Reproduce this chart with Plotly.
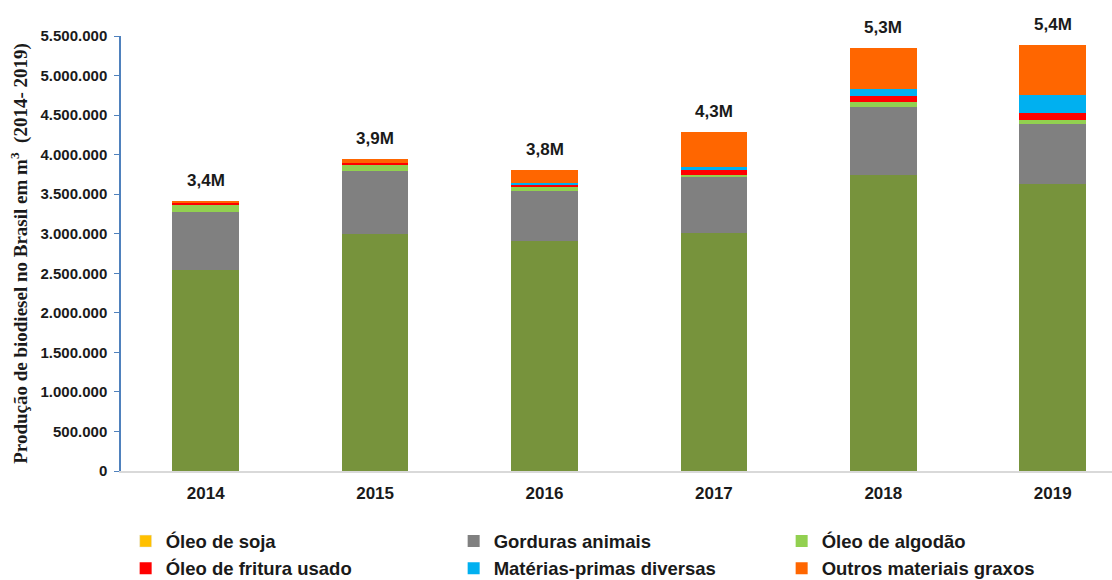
import plotly.graph_objects as go

# Biodiesel production in Brazil by feedstock, m³
years = ["2014", "2015", "2016", "2017", "2018", "2019"]

oleo_soja = [2545000, 3000000, 2904000, 3009000, 3742000, 3628000]
gorduras_animais = [733000, 796000, 640000, 720000, 860000, 755000]
oleo_algodao = [81000, 76000, 50000, 13000, 59000, 54000]
oleo_fritura = [33000, 25000, 25000, 59000, 84000, 85000]
materias_primas = [0, 0, 22000, 46000, 84000, 231000]
outros_graxos = [25000, 46000, 160000, 443000, 519000, 633000]

series_names = [
    "Óleo de soja",
    "Gorduras animais",
    "Óleo de algodão",
    "Óleo de fritura usado",
    "Matérias-primas diversas",
    "Outros materiais graxos",
]
series_values = [oleo_soja, gorduras_animais, oleo_algodao,
                 oleo_fritura, materias_primas, outros_graxos]
bar_colors = ["#77933C", "#808080", "#92D050", "#FF0000", "#00B0F0", "#FF6600"]
legend_colors = ["#FFC000", "#808080", "#92D050", "#FF0000", "#00B0F0", "#FF6600"]

y_tick_vals = list(range(0, 5500001, 500000))


def fmt_thousands(v):
    return f"{v:,}".replace(",", ".")


fig = go.Figure()

for i, (name, vals) in enumerate(zip(series_names, series_values)):
    same_color = bar_colors[i] == legend_colors[i]
    fig.add_trace(go.Bar(
        x=years, y=vals, name=name,
        marker=dict(color=bar_colors[i], line=dict(width=0)),
        width=0.394,
        showlegend=same_color,
        legendrank=i + 1,
        hoverinfo="x+y+name",
    ))
    if not same_color:
        # legend swatch for the soybean series uses its own key colour
        fig.add_trace(go.Bar(
            x=[None], y=[None], name=name,
            marker=dict(color=legend_colors[i]),
            showlegend=True, legendrank=i + 1,
        ))

# total production label above each stacked column
totals = [sum(v[k] for v in series_values) for k in range(len(years))]
for k, tot in enumerate(totals):
    fig.add_annotation(
        x=k, y=tot, xref="x", yref="y",
        text=f"{tot / 1e6:.1f}M".replace(".", ","),
        showarrow=False, yanchor="bottom", yshift=9,
        font=dict(family="Liberation Sans, Arial", size=17, color="#1a1a1a", weight="bold"),
    )

fig.update_layout(
    width=1112, height=580,
    margin=dict(l=121, r=0, t=36, b=109),
    paper_bgcolor="white", plot_bgcolor="white",
    barmode="stack",
    bargap=0.6,
    showlegend=True,
    legend=dict(
        orientation="h",
        xref="container", yref="container",
        x=0.113, xanchor="left",
        y=0.099, yanchor="top",
        entrywidth=283, entrywidthmode="pixels",
        traceorder="normal",
        itemclick=False,
        font=dict(family="Liberation Sans, Arial", size=18.5, color="#1a1a1a", weight="bold"),
        tracegroupgap=0,
        bgcolor="rgba(0,0,0,0)",
    ),
    xaxis=dict(
        type="category",
        range=[-0.5, 5.35],
        showline=True, linecolor="#D9D9D9", linewidth=1.5,
        ticks="", showgrid=False,
        tickfont=dict(family="Liberation Sans, Arial", size=17, color="#1a1a1a", weight="bold"),
        ticklabelstandoff=6,
    ),
    yaxis=dict(
        range=[0, 5500000],
        tickvals=y_tick_vals,
        ticktext=[fmt_thousands(v) for v in y_tick_vals],
        showline=True, linecolor="#4F81BD", linewidth=1.5,
        ticks="outside", ticklen=5, tickcolor="#4F81BD", tickwidth=1.2,
        showgrid=False, zeroline=False,
        tickfont=dict(family="Liberation Sans, Arial", size=15, color="#1a1a1a", weight="bold"),
        ticklabelstandoff=4,
        title=dict(
            text="Produção de biodiesel no Brasil em m<sup>3</sup>  (2014- 2019)",
            font=dict(family="Liberation Serif, Times New Roman", size=19, color="#1a1a1a", weight="bold"),
            standoff=8,
        ),
    ),
)

fig.write_html("out.html")
